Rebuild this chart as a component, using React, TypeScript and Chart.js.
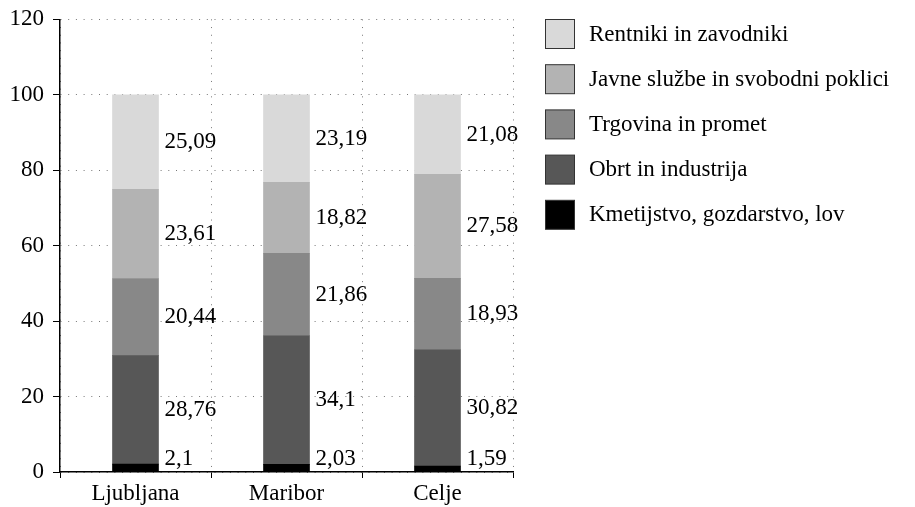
import React, { useEffect, useRef } from "react";
import { Chart, registerables } from "chart.js";

Chart.register(...registerables);

const categories = ["Ljubljana", "Maribor", "Celje"];
const seriesNames = [
  "Kmetijstvo, gozdarstvo, lov",
  "Obrt in industrija",
  "Trgovina in promet",
  "Javne službe in svobodni poklici",
  "Rentniki in zavodniki",
];
const kmetijstvo = [2.1, 2.03, 1.59];
const obrt = [28.76, 34.1, 30.82];
const trgovina = [20.44, 21.86, 18.93];
const javne = [23.61, 18.82, 27.58];
const rentniki = [25.09, 23.19, 21.08];
const seriesColors = ["#000000", "#575757", "#888888", "#b3b3b3", "#d9d9d9"];
const yTicks = [0, 20, 40, 60, 80, 100, 120];

const FONT = "'Liberation Serif', 'Times New Roman', serif";
const FS = 23;

const labelPlugin = {
  id: "segLabels",
  afterDatasetsDraw(chart: any) {
    const ctx = chart.ctx;
    ctx.save();
    ctx.font = `${FS}px ${FONT}`;
    ctx.fillStyle = "#000";
    ctx.textAlign = "left";
    ctx.textBaseline = "middle";
    chart.data.datasets.forEach((ds: any, di: number) => {
      const meta = chart.getDatasetMeta(di);
      meta.data.forEach((bar: any, i: number) => {
        const v = ds.data[i];
        let y = (bar.y + bar.base) / 2;
        y = Math.min(y, chart.chartArea.bottom - 13);
        const x = bar.x + bar.width / 2 + 6;
        ctx.fillText(String(v).replace(".", ","), x, y);
      });
    });
    ctx.restore();
  },
};

const legendPlugin = {
  id: "customLegend",
  afterDraw(chart: any) {
    const ctx = chart.ctx;
    ctx.save();
    ctx.font = `${FS}px ${FONT}`;
    ctx.textAlign = "left";
    ctx.textBaseline = "middle";
    const dss = chart.data.datasets.slice().reverse();
    dss.forEach((ds: any, i: number) => {
      const bx = 545.5;
      const by = 19.5 + i * 45.2;
      ctx.fillStyle = ds.backgroundColor;
      ctx.fillRect(bx, by, 29, 29);
      ctx.strokeStyle = "#333";
      ctx.lineWidth = 1;
      ctx.strokeRect(bx, by, 29, 29);
      ctx.fillStyle = "#000";
      ctx.fillText(ds.label, 589, by + 15);
    });
    ctx.restore();
  },
};

export default function App() {
  const ref = useRef<HTMLCanvasElement | null>(null);
  useEffect(() => {
    document.body.style.margin = "0";
    const values = [kmetijstvo, obrt, trgovina, javne, rentniki];
    const chart = new Chart(ref.current as HTMLCanvasElement, {
      type: "bar",
      data: {
        labels: categories,
        datasets: seriesNames.map((name, i) => ({
          label: name,
          data: values[i],
          backgroundColor: seriesColors[i],
          borderWidth: 0,
          barThickness: 46,
        })),
      },
      options: {
        animation: false,
        responsive: false,
        maintainAspectRatio: false,
        layout: { padding: { left: 0, top: 16, right: 402, bottom: 0 } },
        plugins: {
          legend: { display: false },
          tooltip: { enabled: false },
        },
        scales: {
          x: {
            stacked: true,
            offset: true,
            grid: {
              offset: true,
              color: "#777",
              lineWidth: 1,
              tickColor: "#000",
              tickLength: 6,
            },
            border: { display: true, color: "#000", width: 1.5, dash: [1, 6.7] },
            ticks: { color: "#000", font: { family: FONT, size: FS }, padding: 2 },
            afterFit(scale: any) {
              scale.height = 35;
            },
          },
          y: {
            stacked: true,
            min: 0,
            max: 120,
            afterBuildTicks(scale: any) {
              scale.ticks = yTicks.map((v) => ({ value: v }));
            },
            grid: {
              color: "#777",
              lineWidth: 1,
              tickColor: "#000",
              tickLength: 7,
            },
            border: { display: true, color: "#000", width: 1.5, dash: [1, 6.7] },
            ticks: { color: "#000", font: { family: FONT, size: FS, lineHeight: 0.9 }, padding: 9 },
            afterFit(scale: any) {
              scale.width = 60;
            },
          },
        },
      },
      plugins: [labelPlugin, legendPlugin],
    });
    return () => chart.destroy();
  }, []);
  return <canvas ref={ref} width={915} height={507} style={{ display: "block" }} />;
}
